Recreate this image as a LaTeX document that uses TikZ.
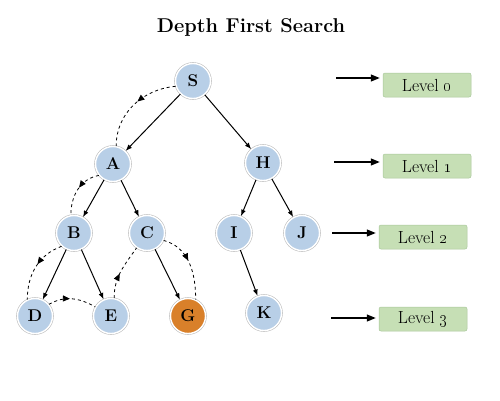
\documentclass[tikz,border=0pt]{standalone}
\usepackage{xcolor}
\usepackage{tikz}
\usetikzlibrary{positioning, arrows.meta, decorations.markings}
\definecolor{nodeblue}{HTML}{B8CFE7}
\definecolor{goalorange}{HTML}{D9802A}
\definecolor{levelgreen}{HTML}{C6DFB5}
\definecolor{levelrim}{HTML}{A9C79A}
\begin{document}
\begin{tikzpicture}[x=1pt,y=-1pt]
	\tikzstyle{vertex}=[circle,fill=nodeblue,draw=white,line width=1.4pt,preaction={draw=black!25,line width=2.6pt},minimum size=35pt,inner sep=0pt,font=\fontsize{17}{20}\selectfont\bfseries]
	\tikzstyle{goal}=[vertex,fill=goalorange]
	\tikzstyle{level}=[rectangle,rounded corners=2pt,fill=levelgreen,draw=levelrim,line width=0.5pt,minimum width=88pt,minimum height=24pt,font=\fontsize{17.5}{20}\selectfont]
	\tikzstyle{edge}=[-{Latex[length=6.5pt,width=5pt]},line width=1pt]
	\tikzstyle{pointer}=[-{Triangle[length=9pt,width=7pt]},line width=1.3pt]
	\tikzstyle{trail}=[dashed,line width=0.8pt,postaction={decorate},decoration={markings,mark=at position 0.45 with {\arrow{Triangle[length=7pt,width=6pt]}}}]
	\useasboundingbox (0,0) rectangle (500,400);
	\node[font=\fontsize{20}{24}\selectfont\bfseries] (title) at (251,27) {Depth First Search};
	% tree
	\node[vertex] (S) at (193,81) {S};
	\node[vertex] (A) at (113,164) {A};
	\node[vertex] (H) at (263,163) {H};
	\node[vertex] (B) at (74,233) {B};
	\node[vertex] (C) at (147,233) {C};
	\node[vertex] (I) at (234,233) {I};
	\node[vertex] (J) at (302,233) {J};
	\node[vertex] (D) at (35,316) {D};
	\node[vertex] (E) at (111,316) {E};
	\node[goal] (G) at (188,316) {G};
	\node[vertex] (K) at (264,313) {K};
	\draw[edge] (S) -- (A);
	\draw[edge] (S) -- (H);
	\draw[edge] (A) -- (B);
	\draw[edge] (A) -- (C);
	\draw[edge] (H) -- (I);
	\draw[edge] (H) -- (J);
	\draw[edge] (B) -- (D);
	\draw[edge] (B) -- (E);
	\draw[edge] (C) -- (G);
	\draw[edge] (I) -- (K);
	% search order
	\draw[trail] (S.197) to[out=185,in=90] (A.80);
	\draw[trail] (A.219) to[out=190,in=90] (B.100);
	\draw[trail] (B.227) to[out=200,in=90] (D.115);
	\draw[trail] (D.40) to[out=30,in=150] (E.150);
	\draw[trail] (E.80) to[out=90,in=235] (C.235);
	\draw[trail] (C.336) to[out=-15,in=90] (G.65);
	% levels
	\node[level] (L0) at (427,85) {Level \oldstylenums{0}};
	\node[level] (L1) at (427,166) {Level \oldstylenums{1}};
	\node[level] (L2) at (423,237) {Level \oldstylenums{2}};
	\node[level] (L3) at (423,319) {Level \oldstylenums{3}};
	\coordinate (p0) at (336,78);
	\coordinate (p1) at (334,162);
	\coordinate (p2) at (332,233);
	\coordinate (p3) at (331,318);
	\draw[pointer] (p0) -- ([xshift=-3pt]p0 -| L0.west);
	\draw[pointer] (p1) -- ([xshift=-3pt]p1 -| L1.west);
	\draw[pointer] (p2) -- ([xshift=-3pt]p2 -| L2.west);
	\draw[pointer] (p3) -- ([xshift=-3pt]p3 -| L3.west);
\end{tikzpicture}
\end{document}
